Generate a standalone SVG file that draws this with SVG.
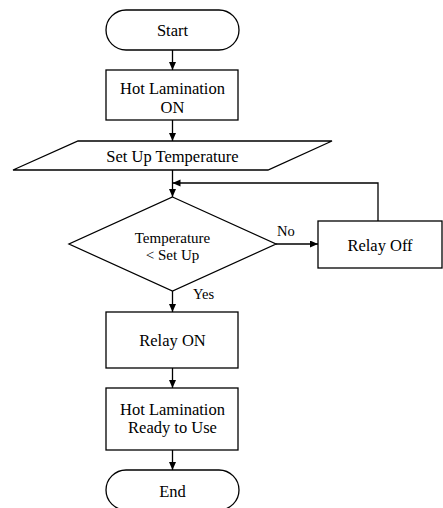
<svg xmlns="http://www.w3.org/2000/svg" width="443" height="508" viewBox="0 0 443 508">
<defs>
<marker id="ah" markerUnits="userSpaceOnUse" markerWidth="9" markerHeight="8" refX="8" refY="3.5" orient="auto">
<path d="M0,0 L8,3.5 L0,7 z" fill="#000"/>
</marker>
<style>
.s{fill:#fff;stroke:#000;stroke-width:1.3}
.t{font-family:"Liberation Serif","Times New Roman",serif;font-size:16.5px;fill:#000;text-anchor:middle}
.d{font-size:15px}
.l{font-family:"Liberation Serif","Times New Roman",serif;font-size:14.5px;fill:#000}
.c{fill:none;stroke:#000;stroke-width:1.3;marker-end:url(#ah)}
</style>
</defs>
<rect width="443" height="508" fill="#fff"/>
<g id="connectors">
<line class="c" x1="172.5" y1="50" x2="172.5" y2="70"/>
<line class="c" x1="172.5" y1="120" x2="172.5" y2="141"/>
<line class="c" x1="172.5" y1="170" x2="172.5" y2="197"/>
<line class="c" x1="276" y1="244" x2="318" y2="244"/>
<polyline class="c" points="378,221 378,183 172.5,183"/>
<line class="c" x1="172.5" y1="291" x2="172.5" y2="312"/>
<line class="c" x1="172.5" y1="368" x2="172.5" y2="388"/>
<line class="c" x1="172.5" y1="450" x2="172.5" y2="470"/>
<text class="l" x="277" y="236">No</text>
<text class="l" x="193" y="299">Yes</text>
</g>
<g id="start">
<rect class="s" x="106" y="10" width="133" height="40" rx="20" ry="20"/>
<text class="t" x="172.5" y="36">Start</text>
</g>
<g id="hot-lamination-on">
<rect class="s" x="106" y="70" width="132" height="50"/>
<text class="t" x="172.5" y="94">Hot Lamination</text>
<text class="t" x="172.5" y="113">ON</text>
</g>
<g id="set-up-temperature">
<polygon class="s" points="78,141 332,141 268,170 13,170"/>
<text class="t" x="172.5" y="162">Set Up Temperature</text>
</g>
<g id="decision">
<polygon class="s" points="172.5,197 276,244 172.5,291 69,244"/>
<text class="t d" x="172.5" y="243">Temperature</text>
<text class="t d" x="172.5" y="260">&lt; Set Up</text>
</g>
<g id="relay-off">
<rect class="s" x="318" y="221" width="124" height="47"/>
<text class="t" x="380" y="251">Relay Off</text>
</g>
<g id="relay-on">
<rect class="s" x="106" y="312" width="132" height="56"/>
<text class="t" x="172.5" y="346">Relay ON</text>
</g>
<g id="ready">
<rect class="s" x="106" y="388" width="132" height="62"/>
<text class="t" x="172.5" y="415">Hot Lamination</text>
<text class="t" x="172.5" y="433">Ready to Use</text>
</g>
<g id="end">
<rect class="s" x="106" y="470" width="133" height="40" rx="20" ry="20"/>
<text class="t" x="172.5" y="497">End</text>
</g>
</svg>
